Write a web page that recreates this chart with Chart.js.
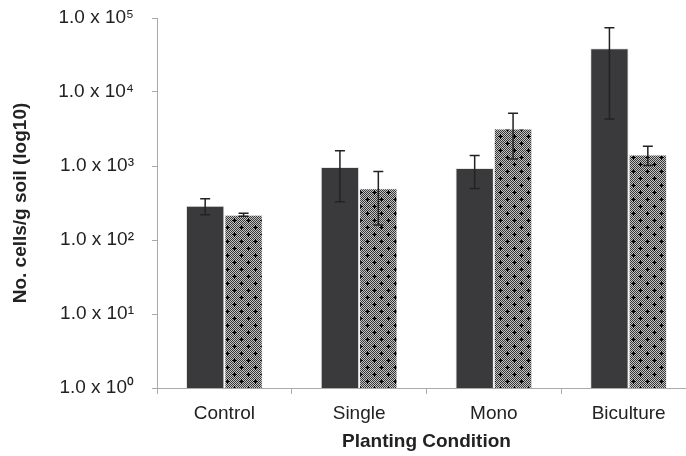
<!DOCTYPE html>
<html lang="en">
<head>
    <meta charset="UTF-8">
    <title>Cells per gram of soil</title>
    <script src="https://cdn.jsdelivr.net/npm/chart.js"></script>
    <style>
        html, body { margin: 0; padding: 0; background: #fff; overflow: hidden; }
        .chart-box { width: 700px; height: 456px; }
    </style>
</head>
<body>
    <div class="chart-box">
        <canvas id="cells-chart" width="700" height="456"></canvas>
    </div>

    <script>
        // Data
        const categories = ['Control', 'Single', 'Mono', 'Biculture'];
        const darkMeans = [290, 970, 940, 39000];
        const darkErrors = [70, 640, 445, 34700];
        const patternMeans = [220, 500, 3200, 1430];
        const patternErrors = [10, 340, 1960, 415];
        const tickValues = [1, 10, 100, 1000, 10000, 100000];
        const supers = ['\u2070', '\u00b9', '\u00b2', '\u00b3', '\u2074', '\u2075'];

        // Checkered fill with small plus marks for the second series
        function makePattern() {
            const tile = document.createElement('canvas');
            tile.width = 14;
            tile.height = 14;
            const c = tile.getContext('2d');
            for (let y = 0; y < 14; y++) {
                for (let x = 0; x < 14; x++) {
                    c.fillStyle = (x + y) % 2 === 0 ? '#383838' : '#c4c4c4';
                    c.fillRect(x, y, 1, 1);
                }
            }
            c.fillStyle = '#000';
            [[3, 3], [10, 10]].forEach(([px, py]) => {
                c.fillRect(px - 2, py, 5, 1);
                c.fillRect(px, py - 2, 1, 5);
            });
            return c.createPattern(tile, 'repeat');
        }

        const canvas = document.getElementById('cells-chart');
        const patternFill = makePattern();

        // Error bars drawn through the y scale
        const errorBars = {
            id: 'errorBars',
            afterDatasetsDraw(chart) {
                const ctx = chart.ctx;
                const yScale = chart.scales.y;
                const errs = [darkErrors, patternErrors];
                ctx.save();
                ctx.strokeStyle = '#222';
                ctx.lineWidth = 1.5;
                chart.data.datasets.forEach((ds, i) => {
                    chart.getDatasetMeta(i).data.forEach((bar, j) => {
                        const v = ds.data[j];
                        const e = errs[i][j];
                        const top = yScale.getPixelForValue(v + e);
                        const bot = yScale.getPixelForValue(Math.max(v - e, 1));
                        ctx.beginPath();
                        ctx.moveTo(bar.x, top);
                        ctx.lineTo(bar.x, bot);
                        ctx.moveTo(bar.x - 5, top);
                        ctx.lineTo(bar.x + 5, top);
                        ctx.moveTo(bar.x - 5, bot);
                        ctx.lineTo(bar.x + 5, bot);
                        ctx.stroke();
                    });
                });
                ctx.restore();
            }
        };

        Chart.defaults.font.family = '"Liberation Sans", Arial, sans-serif';
        Chart.defaults.color = '#222';

        new Chart(canvas, {
            type: 'bar',
            data: {
                labels: categories,
                datasets: [{
                    data: darkMeans,
                    backgroundColor: '#3a3a3c',
                    borderColor: '#e6e6e6',
                    borderWidth: 1,
                    barPercentage: 1,
                    categoryPercentage: 0.57
                }, {
                    data: patternMeans,
                    backgroundColor: patternFill,
                    borderColor: '#f2f2f2',
                    borderWidth: 1,
                    barPercentage: 1,
                    categoryPercentage: 0.57
                }]
            },
            options: {
                responsive: false,
                devicePixelRatio: 1,
                animation: false,
                layout: { padding: { top: 1, right: 4, left: 0, bottom: 0 } },
                plugins: {
                    legend: { display: false },
                    tooltip: { enabled: false }
                },
                scales: {
                    x: {
                        grid: { drawOnChartArea: false, tickLength: 6, color: '#aaa' },
                        border: { color: '#aaa' },
                        ticks: { font: { size: 19 }, padding: 8 },
                        title: {
                            display: true,
                            text: 'Planting Condition',
                            font: { size: 19, weight: 'bold' },
                            padding: { top: 0, bottom: 3 }
                        },
                        afterFit(scale) { scale.height = 68; }
                    },
                    y: {
                        type: 'logarithmic',
                        min: 1,
                        max: 100000,
                        grid: { drawOnChartArea: false, tickLength: 5, color: '#aaa' },
                        border: { color: '#aaa' },
                        afterBuildTicks(scale) {
                            scale.ticks = tickValues.map(v => ({ value: v, major: true }));
                        },
                        ticks: {
                            font: { size: 19 },
                            padding: 18,
                            callback: (v) => '1.0 x 10' + supers[Math.round(Math.log10(v))]
                        },
                        title: {
                            display: true,
                            text: 'No. cells/g soil (log10)',
                            font: { size: 19, weight: 'bold' },
                            padding: { top: 9, bottom: 0 }
                        },
                        afterFit(scale) {
                            scale.width = 157;
                            scale.paddingTop = 18;
                        }
                    }
                }
            },
            plugins: [errorBars]
        });
    </script>
</body>
</html>
